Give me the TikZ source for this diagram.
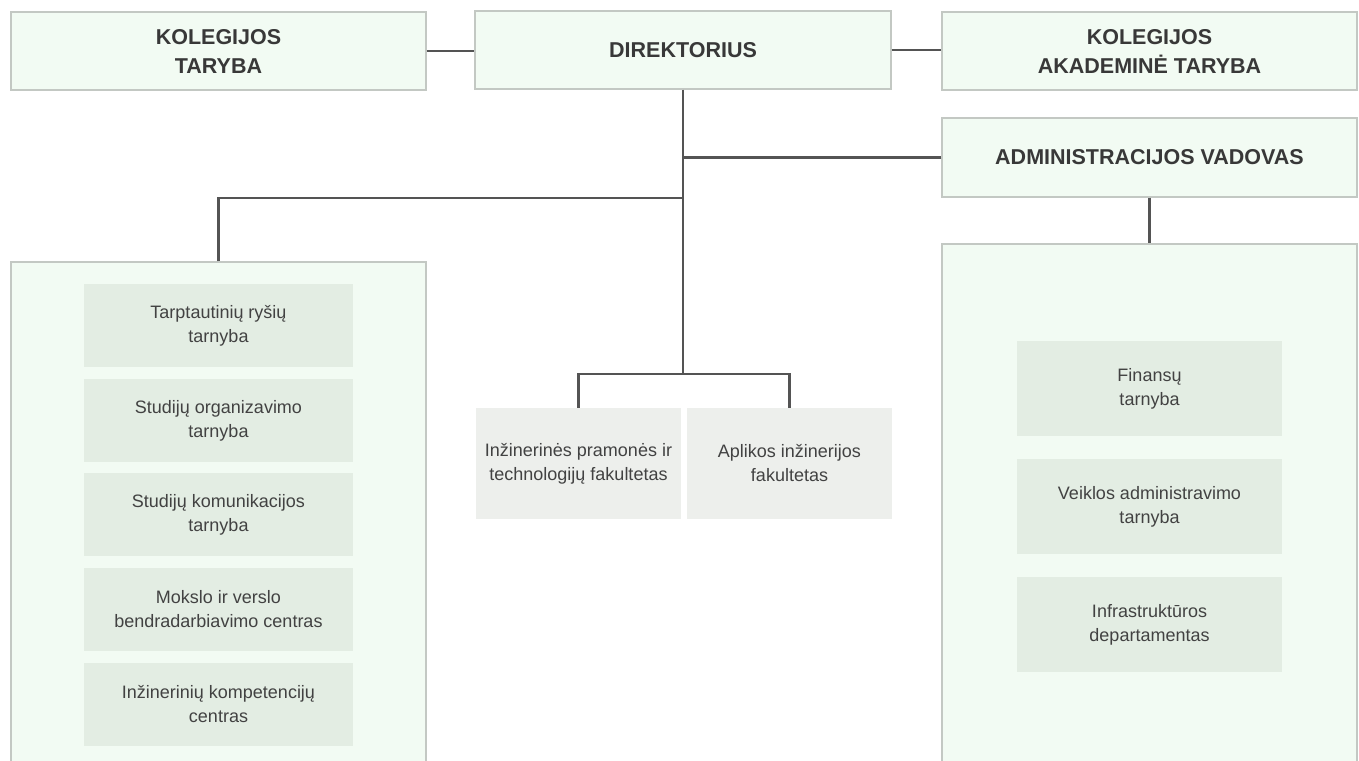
\documentclass[tikz,border=0pt]{standalone}
\usepackage{fontspec}
\setmainfont{Liberation Sans}
\definecolor{mint}{HTML}{F2FBF3}
\definecolor{edgegray}{HTML}{C3C8C3}
\definecolor{innerfill}{HTML}{E3EDE3}
\definecolor{centerfill}{HTML}{EDEFEC}
\definecolor{linegray}{HTML}{545454}
\definecolor{headtext}{HTML}{383838}
\definecolor{bodytext}{HTML}{424242}
\tikzset{
  headbox/.style={draw=edgegray, line width=1.2pt, fill=mint, rectangle,
    minimum width=415pt, minimum height=78pt, inner sep=0pt,
    align=center, text=headtext, font=\fontsize{21.5}{29}\selectfont\bfseries},
  panelbox/.style={draw=edgegray, line width=1.2pt, fill=mint, rectangle,
    minimum width=415pt, inner sep=0pt},
  unitbox/.style={fill=innerfill, rectangle, inner sep=0pt, align=center,
    text=bodytext, font=\fontsize{18}{24}\selectfont},
  facbox/.style={fill=centerfill, rectangle, inner sep=0pt, align=center,
    minimum width=205pt, minimum height=111pt,
    text=bodytext, font=\fontsize{18}{24}\selectfont},
  link/.style={draw=linegray, line width=2.8pt}
}
\begin{document}
\begin{tikzpicture}[x=1pt,y=-1pt]
\useasboundingbox (0,0) rectangle (1359,760);
\clip (0,0) rectangle (1359,760);

% top row
\node[headbox] (kt) at (218.5,51) {KOLEGIJOS\\TARYBA};
\node[headbox, minimum width=416pt] (dir) at (683,50) {DIREKTORIUS};
\node[headbox] (kat) at (1149.5,51) {KOLEGIJOS\\AKADEMINĖ TARYBA};
\node[headbox, minimum height=79pt] (adm) at (1149.5,157.5) {ADMINISTRACIJOS VADOVAS};

% panels
\node[panelbox, minimum height=520pt] (lp) at (218.5,522) {};
\node[panelbox, minimum height=540pt] (rp) at (1149.5,514) {};

% left panel units
\node[unitbox, minimum width=269pt, minimum height=83pt] (l1) at (218.5,325.5) {Tarptautinių ryšių\\tarnyba};
\node[unitbox, minimum width=269pt, minimum height=83pt] (l2) at (218.5,420.5) {Studijų organizavimo\\tarnyba};
\node[unitbox, minimum width=269pt, minimum height=83pt] (l3) at (218.5,514.5) {Studijų komunikacijos\\tarnyba};
\node[unitbox, minimum width=269pt, minimum height=83pt] (l4) at (218.5,609.5) {Mokslo ir verslo\\bendradarbiavimo centras};
\node[unitbox, minimum width=269pt, minimum height=83pt] (l5) at (218.5,704.5) {Inžinerinių kompetencijų\\centras};

% right panel units
\node[unitbox, minimum width=265pt, minimum height=95pt] (r1) at (1149.5,388.5) {Finansų\\tarnyba};
\node[unitbox, minimum width=265pt, minimum height=95pt] (r2) at (1149.5,506.5) {Veiklos administravimo\\tarnyba};
\node[unitbox, minimum width=265pt, minimum height=95pt] (r3) at (1149.5,624.5) {Infrastruktūros\\departamentas};

% faculties
\node[facbox] (f1) at (578.5,463.5) {Inžinerinės pramonės ir\\technologijų fakultetas};
\node[facbox] (f2) at (789.5,463.5) {Aplikos inžinerijos\\fakultetas};

% junctions
\coordinate (jleft) at (683,198);
\coordinate (jfac) at (683,374);

% connectors
\draw[link] (kt.east) -- (kt.east -| dir.west);
\draw[link] (dir.east) -- (dir.east -| kat.west);
\draw[link] (dir.south) -- (jfac);
\draw[link] (adm.west) -- (adm.west -| dir.south);
\draw[link] (lp.north) |- (jleft);
\draw[link] (adm.south) -- (rp.north);
\draw[link] (f1.north) |- (jfac) -| (f2.north);
\end{tikzpicture}
\end{document}
